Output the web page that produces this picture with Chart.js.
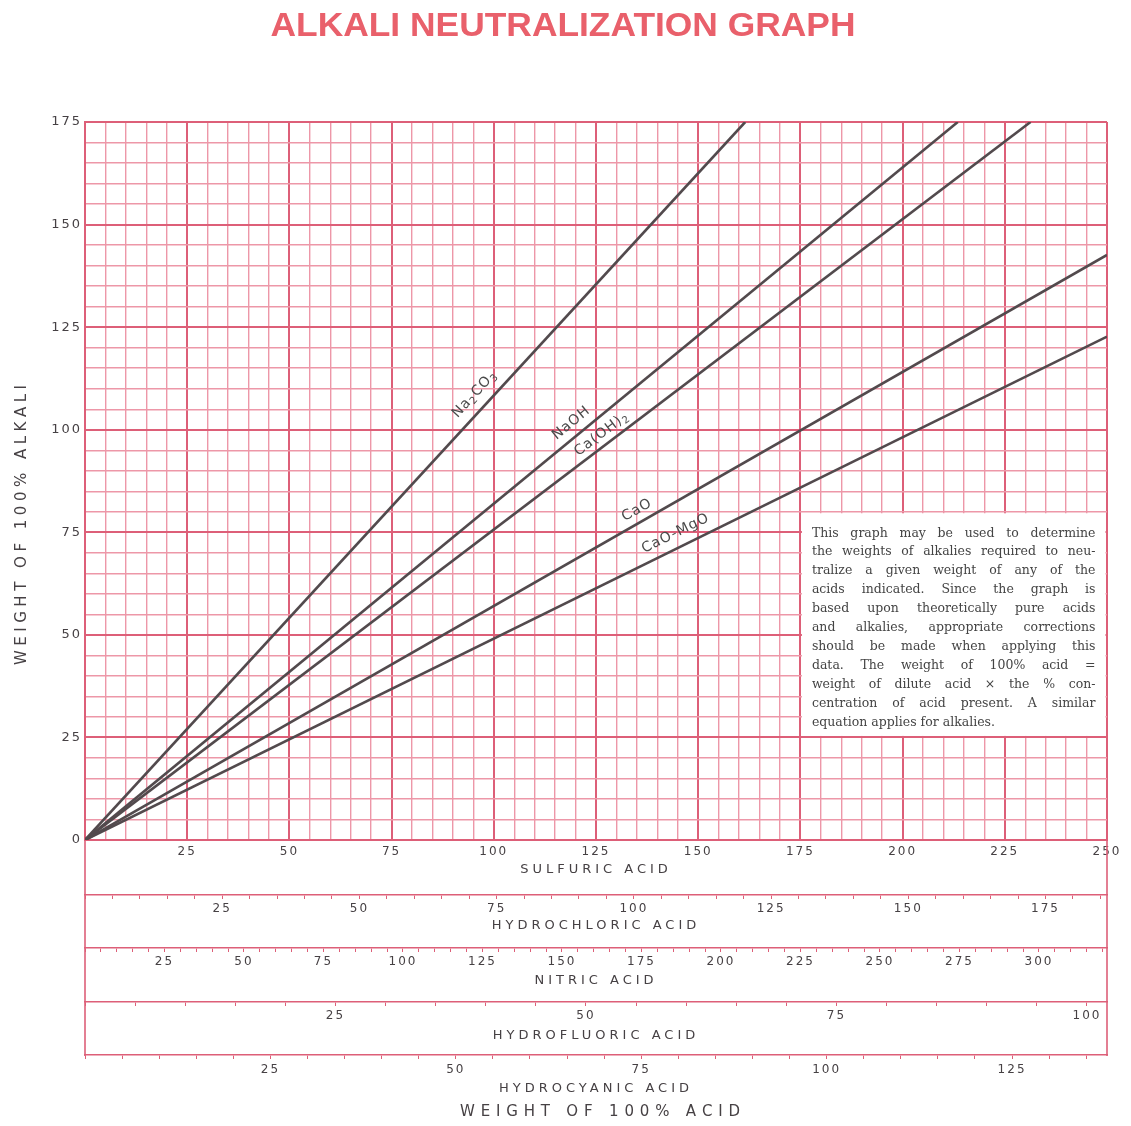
<!DOCTYPE html>
<html>
<head>
<meta charset="utf-8">
<script src="https://cdn.jsdelivr.net/npm/chart.js@4.4.0/dist/chart.umd.min.js"></script>
<style>
  html, body { margin: 0; padding: 0; background: #fff; }
  #wrap { width: 1131px; height: 1126px; position: relative; }
</style>
</head>
<body>
<div id="wrap"><canvas id="mychart"></canvas></div>
<script>
// alkalis on the graph
var alkalis = ['Na2CO3', 'NaOH', 'Ca(OH)2', 'CaO', 'CaO-MgO'];
// every line starts at the origin...
var sulfuricStart = [0, 0, 0, 0, 0];
var alkaliStart = [0, 0, 0, 0, 0];
// ...and runs to the edge of the graph
var sulfuricEnd = [161.5, 213.5, 231.3, 250, 250];
var alkaliEnd = [175, 175, 175, 142.6, 122.7];

// ranges of the acid scales (they all share the sulfuric acid width)
var sulfuricMax = 250;
var hydrochloricMax = 186.2;
var nitricMax = 321.4;
var hydrofluoricMax = 102.0;
var hydrocyanicMax = 137.8;
var alkaliMax = 175;

var noteLines = [
  'This graph may be used to determine',
  'the weights of alkalies required to neu-',
  'tralize a given weight of any of the',
  'acids indicated.  Since the graph is',
  'based upon theoretically pure acids',
  'and alkalies, appropriate corrections',
  'should be made when applying this',
  'data.  The weight of 100% acid =',
  'weight of dilute acid \u00d7 the % con-',
  'centration of acid present.  A similar',
  'equation applies for alkalies.'
];

var minorColor = '#ed97a8';
var majorColor = '#dd5f78';
var inkColor = '#464144';
var lineColor = '#524a4d';

function every25(v, withZero) {
  if (v % 25 !== 0) return '';
  if (v === 0 && !withZero) return '';
  return v;
}

// axis names are set wider than the numbers
function fitAxis(height) {
  return function (s) {
    s.height = height;
    if (!s._spacedTitle) {
      var orig = s.drawTitle;
      s.drawTitle = function () {
        this.ctx.save();
        this.ctx.letterSpacing = '4px';
        orig.apply(this, arguments);
        this.ctx.restore();
      };
      s._spacedTitle = true;
    }
  };
}

function acidAxis(name, max, weight, height, tickPad, titlePad) {
  return {
    type: 'linear', position: 'bottom', min: 0, max: max, weight: weight,
    afterFit: fitAxis(height),
    grid: { drawOnChartArea: false, drawTicks: true, tickLength: 4, color: majorColor, lineWidth: 1 },
    border: { color: majorColor, width: 1.6 },
    ticks: {
      stepSize: 5, includeBounds: false, autoSkip: false, maxRotation: 0, minRotation: 0,
      padding: tickPad, color: inkColor, font: { family: 'DejaVu Sans', size: 12 },
      callback: function (v) { return every25(v, false); }
    },
    title: { display: true, text: name, color: inkColor, font: { family: 'DejaVu Sans', size: 13 },
      padding: { top: 0, bottom: titlePad } }
  };
}

// labels written along the lines: pieces are [text, subscript?]
var lineLabels = [
  { parts: [['Na', 0], ['2', 1], ['CO', 0], ['3', 1]], at: 98, off: 15 },
  { parts: [['NaOH', 0]], at: 121, off: 13 },
  { parts: [['Ca(OH)', 0], ['2', 1]], at: 128, off: 11 },
  { parts: [['CaO', 0]], at: 136.5, off: 12 },
  { parts: [['CaO-MgO', 0]], at: 146, off: 14 }
];

function spaced(ctx, text, cx, cy, width) {
  var chars = text.split('');
  var w = 0;
  chars.forEach(function (c) { w += ctx.measureText(c).width; });
  var sp = (width - w) / (chars.length - 1);
  var x = cx - width / 2;
  ctx.textAlign = 'left';
  chars.forEach(function (c) { ctx.fillText(c, x, cy); x += ctx.measureText(c).width + sp; });
}

function justify(ctx, line, x0, y, width, last) {
  ctx.textAlign = 'left';
  if (last) { ctx.fillText(line, x0, y); return; }
  var words = line.split(/\s+/);
  var total = 0;
  words.forEach(function (w) { total += ctx.measureText(w).width; });
  var gap = (width - total) / (words.length - 1);
  var x = x0;
  words.forEach(function (w) { ctx.fillText(w, x, y); x += ctx.measureText(w).width + gap; });
}

var spacing = {
  id: 'spacing',
  beforeLayout: function (chart) { chart.ctx.letterSpacing = '2px'; },
  beforeDraw: function (chart) { chart.ctx.letterSpacing = '2px'; }
};

var noteBox = {
  id: 'noteBox',
  beforeDatasetsDraw: function (chart) {
    var ctx = chart.ctx, x = chart.scales.x, y = chart.scales.y;
    var l = x.getPixelForValue(175) + 1.5, r = x.getPixelForValue(250) - 1.5;
    var t = y.getPixelForValue(80) + 1.5, b = y.getPixelForValue(25) - 1.5;
    ctx.save();
    ctx.letterSpacing = '0px';
    ctx.fillStyle = '#fff';
    ctx.fillRect(l, t, r - l, b - t);
    ctx.fillStyle = '#444';
    ctx.font = '12.5px "DejaVu Serif"';
    ctx.textBaseline = 'middle';
    noteLines.forEach(function (line, i) {
      justify(ctx, line, l + 10, t + 20 + i * 18.9, r - l - 20, i === noteLines.length - 1);
    });
    ctx.restore();
  }
};

var extras = {
  id: 'extras',
  afterDraw: function (chart) {
    var ctx = chart.ctx, x = chart.scales.x, y = chart.scales.y, hcn = chart.scales.hcn;
    ctx.save();
    ctx.letterSpacing = '0px';

    // side rules running down through the acid scales
    ctx.strokeStyle = majorColor;
    ctx.lineWidth = 1.6;
    [0, sulfuricMax].forEach(function (v) {
      var p = x.getPixelForValue(v);
      ctx.beginPath();
      ctx.moveTo(p, chart.chartArea.bottom);
      ctx.lineTo(p, hcn.top + 1);
      ctx.stroke();
    });

    // main heading
    ctx.fillStyle = '#e9606b';
    ctx.font = 'bold 33px "Liberation Sans Narrow", "Liberation Sans"';
    ctx.textBaseline = 'alphabetic';
    ctx.textAlign = 'center';
    var head = 'ALKALI NEUTRALIZATION GRAPH';
    var hw = ctx.measureText(head).width;
    ctx.save();
    ctx.translate(563, 36);
    ctx.scale(585 / hw, 1);
    ctx.fillText(head, 0, 0);
    ctx.restore();

    // axis names
    ctx.fillStyle = inkColor;
    ctx.font = '15px "DejaVu Sans"';
    ctx.textBaseline = 'middle';
    spaced(ctx, 'WEIGHT OF 100% ACID', 600, 1112, 280);
    ctx.save();
    ctx.translate(22, 525);
    ctx.rotate(-Math.PI / 2);
    spaced(ctx, 'WEIGHT OF 100% ALKALI', 0, 0, 280);
    ctx.restore();

    // line names along the lines
    ctx.fillStyle = '#4a4a4a';
    lineLabels.forEach(function (lab, i) {
      var slope = alkaliEnd[i] / sulfuricEnd[i];
      var p0x = x.getPixelForValue(lab.at), p0y = y.getPixelForValue(lab.at * slope);
      var p1x = x.getPixelForValue(lab.at + 10), p1y = y.getPixelForValue((lab.at + 10) * slope);
      var ang = Math.atan2(p1y - p0y, p1x - p0x);
      var nx = Math.sin(ang), ny = -Math.cos(ang);
      ctx.letterSpacing = '1px';
      var w = 0;
      lab.parts.forEach(function (pt) {
        ctx.font = (pt[1] ? '10px' : '14px') + ' "DejaVu Sans"';
        w += ctx.measureText(pt[0]).width;
      });
      ctx.save();
      ctx.translate(p0x + nx * lab.off, p0y + ny * lab.off);
      ctx.rotate(ang);
      ctx.textAlign = 'left';
      var cx = -w / 2;
      lab.parts.forEach(function (pt) {
        ctx.font = (pt[1] ? '10px' : '14px') + ' "DejaVu Sans"';
        ctx.fillText(pt[0], cx, pt[1] ? 4 : 0);
        cx += ctx.measureText(pt[0]).width;
      });
      ctx.restore();
    });
    ctx.restore();
  }
};

var datasets = alkalis.map(function (name, i) {
  return {
    label: name,
    data: [{ x: sulfuricStart[i], y: alkaliStart[i] }, { x: sulfuricEnd[i], y: alkaliEnd[i] }],
    borderColor: lineColor,
    borderWidth: 2.6,
    pointRadius: 0,
    fill: false
  };
});

var ctx = document.getElementById('mychart');
var myChart = new Chart(ctx, {
  type: 'line',
  data: { datasets: datasets },
  options: {
    responsive: true,
    maintainAspectRatio: false,
    animation: false,
    layout: { padding: { top: 122, left: 0, right: 24, bottom: 26 } },
    plugins: { legend: { display: false }, tooltip: { enabled: false }, title: { display: false } },
    scales: {
      x: {
        type: 'linear', position: 'bottom', min: 0, max: sulfuricMax, weight: 0,
        afterFit: fitAxis(55),
        grid: {
          drawTicks: false,
          color: function (c) { return c.tick && c.tick.value % 25 === 0 ? majorColor : minorColor; },
          lineWidth: function (c) { return c.tick && c.tick.value % 25 === 0 ? 2 : 1.4; }
        },
        border: { color: majorColor, width: 2 },
        ticks: {
          stepSize: 5, autoSkip: false, maxRotation: 0, minRotation: 0, padding: 5,
          color: inkColor, font: { family: 'DejaVu Sans', size: 12 },
          callback: function (v) { return every25(v, false); }
        },
        title: { display: true, text: 'SULFURIC ACID', color: inkColor,
          font: { family: 'DejaVu Sans', size: 13 }, padding: { top: 0, bottom: 18 } }
      },
      hcl: acidAxis('HYDROCHLORIC ACID', hydrochloricMax, 1, 53, 3, 15),
      hno3: acidAxis('NITRIC ACID', nitricMax, 2, 54, 3, 14),
      hf: acidAxis('HYDROFLUORIC ACID', hydrofluoricMax, 3, 53, 3, 12),
      hcn: acidAxis('HYDROCYANIC ACID', hydrocyanicMax, 4, 45, 4, 4),
      y: {
        type: 'linear', min: 0, max: alkaliMax,
        afterFit: function (s) { s.width = 85; },
        grid: {
          drawTicks: false,
          color: function (c) { return c.tick && c.tick.value % 25 === 0 ? majorColor : minorColor; },
          lineWidth: function (c) { return c.tick && c.tick.value % 25 === 0 ? 2 : 1.4; }
        },
        border: { color: majorColor, width: 2 },
        ticks: {
          stepSize: 5, autoSkip: false, padding: 3,
          color: inkColor, font: { family: 'DejaVu Sans', size: 13 },
          callback: function (v) { return every25(v, true); }
        }
      }
    }
  },
  plugins: [spacing, noteBox, extras]
});
</script>
</body>
</html>
